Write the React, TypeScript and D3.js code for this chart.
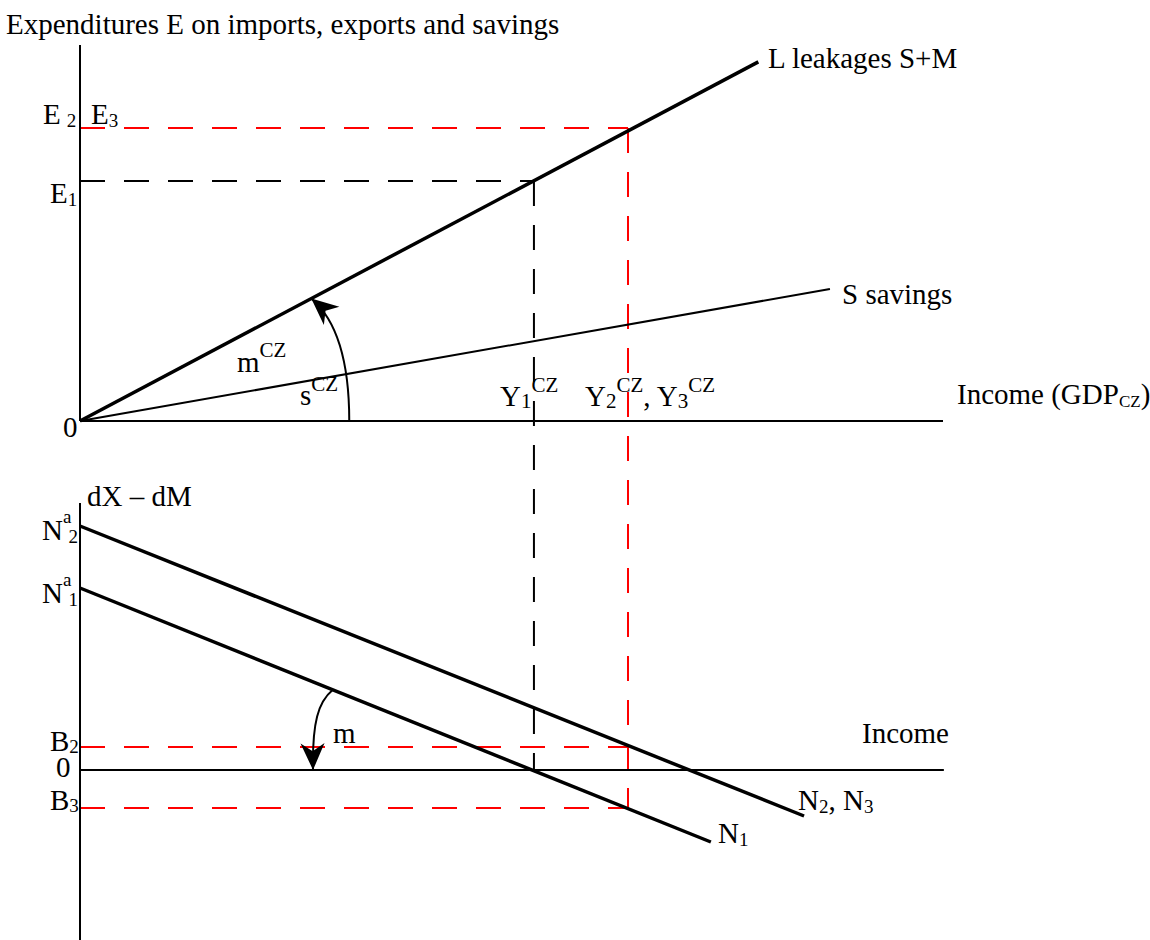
import React from "react";
import * as d3 from "d3";

// ---- data (abstract diagram units) ----
const leakageLine: [number, number][] = [[0, 0], [78.6, 95.5]]; // L = S + M
const savingsLine: [number, number][] = [[0, 0], [86.9, 35.1]]; // S
const incomeLevels = [52.6, 63.5]; // Y1, Y2 = Y3
const expenditureLevels = [63.8, 77.9]; // E1, E2 = E3
const netExportN1: [number, number][] = [[0, 45.5], [73.1, -18]];
const netExportN2: [number, number][] = [[0, 61], [83.9, -11.5]];
const balanceLevels = [5.75, -9.5]; // B2, B3
const mczArc = { start: [31.2, 0], ctrl: [31.2, 24], endIncome: 26.8 };
const mArc = { startIncome: 29.3, c1: [27.6, 17], c2: [26.9, 12], end: [27, 0] };

const W = 1150;
const H = 940;
const FONT = "'Liberation Serif', 'Times New Roman', serif";
const FS = 29;
const SFS = 19;
const RED = "#ff0000";

const x = d3.scaleLinear().domain([0, 100]).range([80, 943]);
const yTop = d3.scaleLinear().domain([0, 100]).range([421, 45]);
const yBot = d3.scaleLinear().domain([-42.5, 66.75]).range([940, 503]);

const lineTop = d3.line<[number, number]>().x((d) => x(d[0])).y((d) => yTop(d[1]));
const lineBot = d3.line<[number, number]>().x((d) => x(d[0])).y((d) => yBot(d[1]));

const interp = (seg: [number, number][], xv: number) => {
  const [a, b] = seg;
  return a[1] + ((b[1] - a[1]) / (b[0] - a[0])) * (xv - a[0]);
};

export default function App() {
  const [Y1, Y2] = incomeLevels;
  const [E1, E2] = expenditureLevels;
  const [B2, B3] = balanceLevels;

  // m^CZ arc
  const p1 = d3.path();
  p1.moveTo(x(mczArc.start[0]), yTop(mczArc.start[1]));
  p1.quadraticCurveTo(
    x(mczArc.ctrl[0]),
    yTop(mczArc.ctrl[1]),
    x(mczArc.endIncome),
    yTop(interp(leakageLine, mczArc.endIncome))
  );
  // m arc
  const p2 = d3.path();
  p2.moveTo(x(mArc.startIncome), yBot(interp(netExportN1, mArc.startIncome)));
  p2.bezierCurveTo(
    x(mArc.c1[0]),
    yBot(mArc.c1[1]),
    x(mArc.c2[0]),
    yBot(mArc.c2[1]),
    x(mArc.end[0]),
    yBot(mArc.end[1])
  );

  const dash = "25,19";
  const t = { fontFamily: FONT, fontSize: FS, fill: "#000" } as const;

  return (
    <svg
      width={W}
      height={H}
      style={{ position: "absolute", left: 0, top: 0, background: "#fff" }}
    >
      <defs>
        <marker
          id="arrow"
          markerUnits="userSpaceOnUse"
          markerWidth={40}
          markerHeight={40}
          viewBox="-25 -15 30 30"
          refX={0}
          refY={0}
          orient="auto"
        >
          <path d="M0,0 L-20,-9 L-14,0 L-20,9 Z" fill="#000" />
        </marker>
      </defs>

      {/* ===== top panel ===== */}
      <text {...t} x={6} y={34}>Expenditures E on imports, exports and savings</text>

      {/* dashed guides */}
      <line x1={x(0)} x2={x(Y1)} y1={yTop(E1)} y2={yTop(E1)} stroke="#000" strokeWidth={2} strokeDasharray={dash} />
      <line x1={x(Y1)} x2={x(Y1)} y1={yTop(E1)} y2={yBot(0)} stroke="#000" strokeWidth={2} strokeDasharray={dash} />
      <line x1={x(0)} x2={x(Y2)} y1={yTop(E2)} y2={yTop(E2)} stroke={RED} strokeWidth={2} strokeDasharray={dash} />
      <line x1={x(Y2)} x2={x(Y2)} y1={yTop(E2)} y2={yBot(B3)} stroke={RED} strokeWidth={2} strokeDasharray={dash} />

      {/* axes */}
      <line x1={x(0)} x2={x(0)} y1={yTop(0)} y2={yTop(100)} stroke="#000" strokeWidth={2} />
      <line x1={x(0)} x2={x(100)} y1={yTop(0)} y2={yTop(0)} stroke="#000" strokeWidth={2} />

      {/* lines */}
      <path d={lineTop(leakageLine) || ""} stroke="#000" strokeWidth={3.5} fill="none" />
      <path d={lineTop(savingsLine) || ""} stroke="#000" strokeWidth={2} fill="none" />
      <path d={p1.toString()} stroke="#000" strokeWidth={2} fill="none" markerEnd="url(#arrow)" />

      {/* labels */}
      <text {...t} x={768} y={68}>L leakages S+M</text>
      <text {...t} x={842} y={304}>S savings</text>
      <text {...t} x={957} y={404}>
        Income (GDP<tspan fontSize={17} dy={3}>CZ</tspan>
        <tspan dy={-3}>)</tspan>
      </text>
      <text {...t} x={63} y={437}>0</text>
      <text {...t} x={43} y={124}>
        E<tspan fontSize={SFS} dx={6} dy={3}>2</tspan>
      </text>
      <text {...t} x={91} y={124}>
        E<tspan fontSize={SFS} dy={3}>3</tspan>
      </text>
      <text {...t} x={50} y={203}>
        E<tspan fontSize={SFS} dy={3}>1</tspan>
      </text>
      <text {...t} x={237} y={372}>
        m<tspan fontSize={SFS + 2} dy={-15}>CZ</tspan>
      </text>
      <text {...t} x={300} y={405}>
        s<tspan fontSize={SFS + 2} dy={-14}>CZ</tspan>
      </text>
      <text {...t} x={500} y={406}>
        Y<tspan fontSize={SFS + 2} dy={2}>1</tspan>
        <tspan fontSize={SFS + 2} dx={0} dy={-16}>CZ</tspan>
      </text>
      <text {...t} x={585} y={406}>
        Y<tspan fontSize={SFS + 2} dy={2}>2</tspan>
        <tspan fontSize={SFS + 2} dy={-16}>CZ</tspan>
        <tspan dy={14}>, Y</tspan>
        <tspan fontSize={SFS + 2} dy={2}>3</tspan>
        <tspan fontSize={SFS + 2} dy={-16}>CZ</tspan>
      </text>

      {/* ===== bottom panel ===== */}
      <line x1={x(0)} x2={x(Y2)} y1={yBot(B2)} y2={yBot(B2)} stroke={RED} strokeWidth={2} strokeDasharray={dash} />
      <line x1={x(0)} x2={x(Y2)} y1={yBot(B3)} y2={yBot(B3)} stroke={RED} strokeWidth={2} strokeDasharray={dash} />

      <line x1={x(0)} x2={x(0)} y1={yBot(66.75)} y2={yBot(-42.5)} stroke="#000" strokeWidth={2} />
      <line x1={x(0)} x2={x(100.1)} y1={yBot(0)} y2={yBot(0)} stroke="#000" strokeWidth={2} />

      <path d={lineBot(netExportN2) || ""} stroke="#000" strokeWidth={3.5} fill="none" />
      <path d={lineBot(netExportN1) || ""} stroke="#000" strokeWidth={3.5} fill="none" />
      <path d={p2.toString()} stroke="#000" strokeWidth={2} fill="none" markerEnd="url(#arrow)" />

      <text {...t} x={87} y={506}>dX – dM</text>
      <text {...t} x={42} y={540}>
        N<tspan fontSize={SFS} dy={-17}>a</tspan>
        <tspan fontSize={SFS} dx={-3} dy={20}>2</tspan>
      </text>
      <text {...t} x={42} y={603}>
        N<tspan fontSize={SFS} dy={-17}>a</tspan>
        <tspan fontSize={SFS} dx={-3} dy={20}>1</tspan>
      </text>
      <text {...t} x={333} y={743}>m</text>
      <text {...t} x={862} y={743}>Income</text>
      <text {...t} x={50} y={751}>
        B<tspan fontSize={SFS} dy={2}>2</tspan>
      </text>
      <text {...t} x={56} y={777}>0</text>
      <text {...t} x={50} y={810}>
        B<tspan fontSize={SFS} dy={2}>3</tspan>
      </text>
      <text {...t} x={798} y={810}>
        N<tspan fontSize={SFS} dy={3}>2</tspan>
        <tspan dy={-3}>, N</tspan>
        <tspan fontSize={SFS} dy={3}>3</tspan>
      </text>
      <text {...t} x={718} y={843}>
        N<tspan fontSize={SFS} dy={3}>1</tspan>
      </text>
    </svg>
  );
}
